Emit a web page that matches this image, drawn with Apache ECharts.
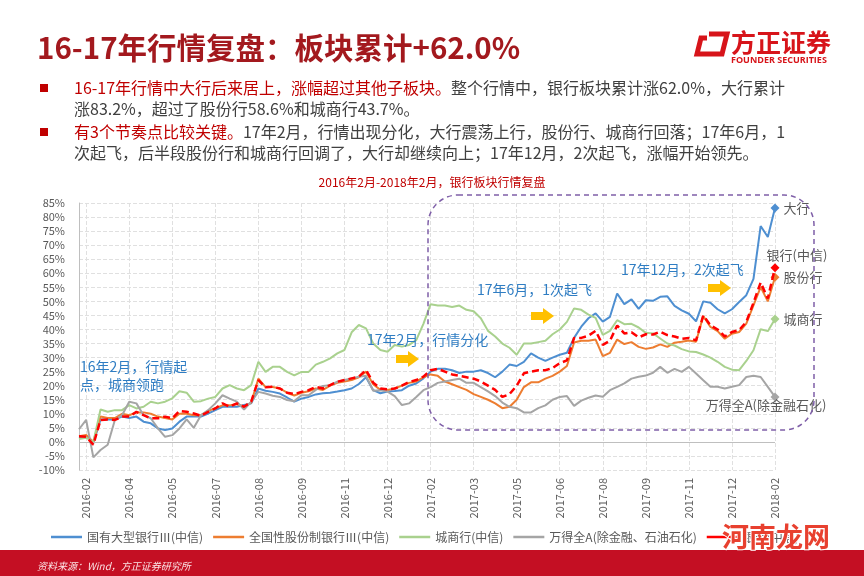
<!DOCTYPE html>
<html><head><meta charset="utf-8">
<script src="https://cdn.jsdelivr.net/npm/echarts@6/dist/echarts.min.js"></script>
<style>html,body{margin:0;padding:0;background:#fff}#c{width:864px;height:576px}</style>
</head><body><div id="c"></div><script>
const FONT = '"Noto Sans CJK SC", "Noto Sans", sans-serif';

const tickLabels = ['2016-02','2016-04','2016-05','2016-07','2016-08','2016-09','2016-11','2016-12','2017-02','2017-03','2017-05','2017-06','2017-08','2017-09','2017-11','2017-12','2018-02'];

const seriesNames = ['国有大型银行Ⅲ(中信)','全国性股份制银行Ⅲ(中信)','城商行(中信)','万得全A(除金融、石油石化)','银行(中信)'];
const endLabels = ['大行','股份行','城商行','万得全A(除金融石化)','银行(中信)'];

const bigBanks = [1.5,2.0,-0.5,8.0,8.0,8.0,9.0,8.5,9.0,7.2,
6.6,4.8,4.2,4.8,7.2,9.0,9.0,9.0,10.1,11.3,
12.5,12.5,12.5,13.1,13.7,19.0,18.2,17.8,17.2,15.8,
14.3,15.4,16.0,16.9,17.3,17.5,17.9,18.4,19.0,20.6,
23.0,18.4,17.3,17.9,18.1,18.4,20.0,20.8,22.6,25.0,
26.0,26.0,25.5,24.5,25.0,25.0,25.5,24.5,23.0,25.0,
27.5,27.0,28.5,31.5,30.0,28.8,30.0,31.0,31.7,37.0,
41.0,44.0,45.7,42.8,44.5,52.8,49.0,50.7,47.3,50.4,
50.2,51.6,51.8,48.4,46.8,45.6,42.9,50.0,49.5,47.2,
45.7,47.2,49.8,52.2,58.0,76.8,72.9,83.2];

const jointStock = [2.0,2.5,0.0,9.0,8.5,8.5,10.0,9.5,10.5,10.5,
10.0,9.0,8.5,8.0,10.0,10.0,9.5,9.5,11.0,12.0,
13.0,13.0,13.5,12.5,14.0,22.5,19.5,19.5,19.0,17.5,
16.5,17.5,18.0,19.0,18.5,20.0,21.0,21.5,22.0,23.0,
25.0,20.5,18.5,18.5,19.0,20.0,21.0,21.5,23.0,24.0,
23.5,21.5,20.5,19.5,18.5,17.0,16.0,15.0,13.7,12.0,
12.5,15.0,19.5,21.2,21.2,22.5,23.5,25.0,27.0,35.4,
36.0,36.0,36.4,30.5,31.7,36.4,34.8,35.5,33.8,33.1,
33.6,34.7,33.8,35.3,35.6,36.1,35.6,44.8,40.9,39.4,
36.7,38.5,39.1,42.1,48.6,55.1,50.0,58.6];

const cityBanks = [1.0,1.5,0.0,11.5,10.7,11.3,11.3,13.1,11.9,12.5,
14.3,13.7,14.3,15.5,18.0,17.5,14.3,14.5,15.4,16.0,
19.0,20.2,19.0,18.4,20.2,28.5,24.9,26.7,26.7,24.9,
23.7,24.9,24.9,27.5,28.5,29.7,31.5,32.7,39.0,41.6,
40.4,35.0,32.7,32.1,34.5,33.9,34.5,36.2,42.0,49.0,
48.5,48.5,48.0,48.5,47.0,46.5,44.0,39.5,37.5,35.0,
33.5,31.0,35.0,35.0,35.5,36.0,38.3,40.0,42.7,47.5,
47.0,45.3,44.1,38.1,39.5,43.3,41.9,42.0,40.7,38.8,
38.6,36.8,35.0,34.3,33.0,32.2,32.0,31.1,30.0,28.5,
26.7,25.7,25.5,28.8,32.6,40.1,39.4,43.7];

const windA = [4.5,7.8,-5.5,-2.9,-1.0,7.8,9.5,14.3,13.7,9.5,
8.4,4.8,1.8,2.4,4.8,8.0,5.0,9.5,11.3,13.7,
16.6,15.4,14.3,11.5,14.3,17.8,17.2,16.4,16.0,14.9,
14.5,16.6,16.6,18.5,19.9,20.2,21.4,22.0,22.6,23.2,
23.5,18.2,18.4,17.9,16.3,13.1,13.7,16.0,18.4,19.5,
21.0,21.5,22.0,22.5,21.0,21.0,19.5,18.0,16.3,14.0,
12.5,12.0,10.5,10.5,12.0,13.0,15.0,16.0,16.3,12.8,
14.7,15.7,16.5,16.1,18.4,19.6,20.8,22.5,23.2,23.6,
24.6,26.7,24.6,26.0,24.9,26.7,24.3,21.9,19.6,19.6,
19.0,19.6,20.2,23.1,23.5,23.1,19.6,16.0];

const bankIndex = [2.0,1.8,-1.0,7.8,8.0,7.8,9.0,9.0,10.7,9.5,
8.4,8.4,9.0,8.4,11.0,10.7,10.1,9.3,10.7,11.9,
13.7,12.5,13.7,12.5,14.3,22.0,19.4,19.6,19.0,17.5,
17.0,17.8,18.4,19.6,19.0,20.2,21.4,22.0,22.6,23.2,
25.6,21.1,19.0,18.7,19.0,20.0,21.3,22.0,23.2,25.5,
26.0,25.0,24.0,23.5,23.0,22.5,21.5,20.0,18.5,16.0,
17.0,20.0,24.4,25.0,25.5,25.5,26.3,28.0,29.0,37.0,
37.0,37.8,39.5,34.5,36.0,41.4,38.6,39.0,37.2,38.3,
38.2,39.2,38.0,37.5,36.7,37.0,36.1,45.0,41.5,40.0,
37.5,39.1,39.8,42.7,49.5,56.7,51.0,62.0];

const STEP = 6;
const isTick = (i) => i >= 1 && (i - 1) % STEP === 0;
const categories = bigBanks.map((_, i) => isTick(i) ? tickLabels[(i - 1) / STEP] : 'd' + i);

const colors = ['#4E8FD1','#ED7D31','#A9D18E','#A5A5A5','#FF0000'];
const datasets = [bigBanks, jointStock, cityBanks, windA, bankIndex];
const labelPos = [
  {position:'right', offset:[0,0]},
  {position:'right', offset:[0,0]},
  {position:'right', offset:[0,0]},
  {position:'bottom', offset:[-9,-7]},
  {position:'top', offset:[22,2]}
];

const last = bigBanks.length - 1;
const series = datasets.map((d, k) => ({
  name: seriesNames[k],
  type: 'line',
  data: d,
  symbol: 'none',
  z: 2 + k,
  lineStyle: {color: colors[k], width: k === 4 ? 2.5 : 2, type: k === 4 ? [7,4] : 'solid'},
  itemStyle: {color: colors[k]},
  markPoint: {
    symbol: 'diamond', symbolSize: 9, silent: true,
    itemStyle: {color: colors[k]},
    data: [{coord: [last, d[last]], name: endLabels[k]}],
    label: {show: true, formatter: endLabels[k], color: '#595959', fontSize: 13, fontFamily: FONT,
      distance: 4, position: labelPos[k].position, offset: labelPos[k].offset}
  },
  markLine: k === 0 ? {silent: true, symbol: ['none','none'], label: {show: false},
    lineStyle: {color: '#BFBFBF', type: 'solid', width: 1}, data: [{yAxis: 0}]} : undefined
}));

function arrow(x0, yc) {
  return {type: 'polygon', z: 100, shape: {points: [[x0,yc-4],[x0+12,yc-4],[x0+12,yc-8],[x0+23,yc],[x0+12,yc+8],[x0+12,yc+4],[x0,yc+4]]},
    style: {fill: '#FFC000'}};
}
function txt(x, y, text, size, color, extra) {
  return Object.assign({type: 'text', x: x, y: y, z: 100,
    style: Object.assign({text: text, fill: color, fontSize: size, fontFamily: FONT,
      verticalAlign: 'middle', textVerticalAlign: 'middle', align: 'left', textAlign: 'left'}, extra || {})});
}
const rich = {
  r: {fill: '#C00000', color: '#C00000', fontSize: 16, fontFamily: FONT},
  g: {fill: '#404040', color: '#404040', fontSize: 16, fontFamily: FONT}
};
function richLine(y, text) {
  return {type: 'text', x: 74, y: y, z: 100, style: {text: text, rich: rich, fontSize: 16, fontFamily: FONT,
    verticalAlign: 'middle', textVerticalAlign: 'middle'}};
}

const graphics = [
  txt(37, 48, '16-17年行情复盘：板块累计+62.0%', 29.5, '#A3191E', {fontWeight: 'bold'}),
  {type: 'polyline', z: 100, shape: {points: [[709,34],[727,34],[722,54],[697,54],[701,38],[707,38]]},
    style: {stroke: '#D7141A', lineWidth: 5, fill: null, lineJoin: 'miter'}},
  txt(731, 42, '方正证券', 25, '#D7141A', {fontWeight: 'bold'}),
  txt(731, 60, 'FOUNDER SECURITIES', 9, '#D7141A', {fontWeight: 'bold', fontFamily: '"Open Sans", "DejaVu Sans", sans-serif'}),
  {type: 'rect', z: 100, shape: {x: 40, y: 84, width: 8, height: 8}, style: {fill: '#C00000'}},
  {type: 'rect', z: 100, shape: {x: 40, y: 128, width: 8, height: 8}, style: {fill: '#C00000'}},
  richLine(88, '{r|16-17年行情中大行后来居上，涨幅超过其他子板块。}{g|整个行情中，银行板块累计涨62.0%，大行累计}'),
  richLine(109, '{g|涨83.2%，超过了股份行58.6%和城商行43.7%。}'),
  richLine(132, '{r|有3个节奏点比较关键。}{g|17年2月，行情出现分化，大行震荡上行，股份行、城商行回落；17年6月，1}'),
  richLine(153, '{g|次起飞，后半段股份行和城商行回调了，大行却继续向上；17年12月，2次起飞，涨幅开始领先。}'),
  txt(432, 182, '2016年2月-2018年2月，银行板块行情复盘', 12, '#C00000', {align: 'center', textAlign: 'center'}),
  {type: 'rect', z: 100, shape: {x: 428, y: 195, width: 386, height: 235, r: 30},
    style: {fill: null, stroke: '#7F5FA8', lineWidth: 1.5, lineDash: [5,4]}},
  txt(80, 367, '16年2月，行情起', 14, '#2F7DC3'),
  txt(80, 385, '点，城商领跑', 14, '#2F7DC3'),
  txt(367, 340, '17年2月，行情分化', 14, '#2F7DC3'),
  txt(477, 290, '17年6月，1次起飞', 14, '#2F7DC3'),
  txt(621, 270, '17年12月，2次起飞', 14, '#2F7DC3'),
  arrow(396, 359),
  arrow(531, 316),
  arrow(708, 288),
  {type: 'rect', z: 100, shape: {x: 0, y: 550, width: 864, height: 26}, style: {fill: '#C40F23'}},
  txt(37, 566, '资料来源：Wind，方正证券研究所', 10, '#FBE3E5', {fontStyle: 'italic'}),
  txt(722, 537, '河南龙网', 27, '#E8402F', {stroke: '#ffffff', lineWidth: 2, fontWeight: 'bold'})
];

const chart = echarts.init(document.getElementById('c'), null, {renderer: 'canvas'});
chart.setOption({
  animation: false,
  backgroundColor: '#ffffff',
  textStyle: {fontFamily: FONT},
  grid: {left: 79, right: 89, top: 203, bottom: 106, containLabel: false, outerBoundsMode: 'none'},
  legend: {
    data: seriesNames, left: 46, top: 526, width: 818, icon: 'rect', itemWidth: 31, itemHeight: 2.5, itemGap: 10,
    textStyle: {fontSize: 12, color: '#595959', fontFamily: FONT}
  },
  xAxis: {
    type: 'category', data: categories, boundaryGap: false,
    axisLine: {show: false}, axisTick: {show: false},
    axisLabel: {rotate: 90, interval: (i) => isTick(i), color: '#595959', fontSize: 11, margin: 8, fontFamily: FONT},
    splitLine: {show: true, interval: (i) => isTick(i), lineStyle: {type: 'dashed', color: '#E0E0E0'}}
  },
  yAxis: {
    type: 'value', min: -10, max: 85, interval: 5,
    axisLine: {show: true, lineStyle: {color: '#BFBFBF'}}, axisTick: {show: false},
    axisLabel: {formatter: '{value}%', color: '#595959', fontSize: 11, margin: 14, fontFamily: FONT},
    splitLine: {show: true, lineStyle: {type: 'dashed', color: '#E0E0E0'}}
  },
  series: series,
  graphic: {elements: graphics}
});
</script></body></html>
